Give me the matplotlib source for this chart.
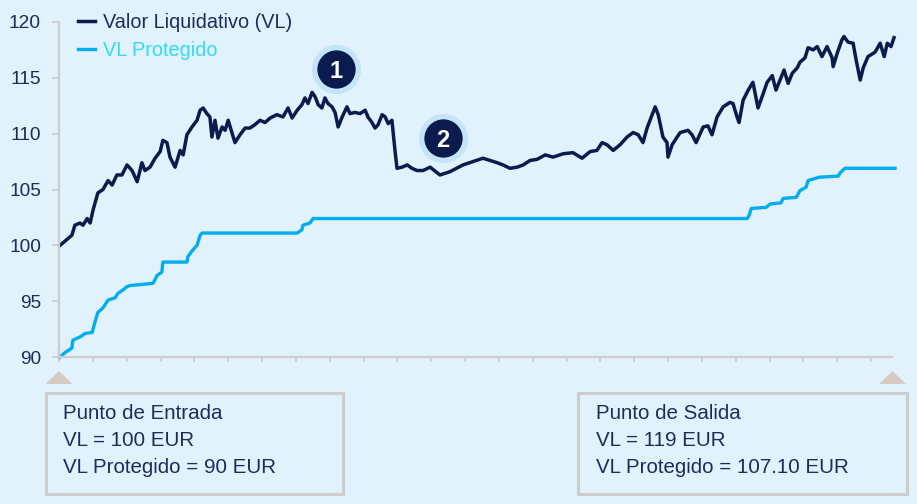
import matplotlib.pyplot as plt
from matplotlib.patches import Rectangle, Polygon

plt.rcParams['font.family'] = ['Liberation Sans', 'DejaVu Sans']

# eje x en meses (una marca por mes)
t_vl = [0.03, 0.38, 0.47, 0.62, 0.71, 0.83, 0.92, 1.01, 1.15, 1.30, 1.45, 1.57, 1.71, 1.86,
        2.01, 2.16, 2.31, 2.45, 2.54, 2.69, 2.84, 2.99, 3.07, 3.19, 3.28, 3.43, 3.58, 3.67,
        3.78, 3.93, 4.08, 4.17, 4.26, 4.37, 4.46, 4.52, 4.61, 4.70, 4.82, 4.91, 5.00, 5.11,
        5.20, 5.35, 5.50, 5.64, 5.79, 5.94, 6.09, 6.24, 6.44, 6.62, 6.77, 6.89, 7.04, 7.18,
        7.27, 7.36, 7.48, 7.57, 7.66, 7.77, 7.86, 7.95, 8.07, 8.16, 8.25, 8.37, 8.51, 8.60,
        8.75, 8.90, 9.05, 9.13, 9.25, 9.34, 9.43, 9.55, 9.64, 9.73, 9.84, 9.87, 9.93, 9.99,
        10.14, 10.29, 10.43, 10.58, 10.76, 10.97, 11.26, 11.56, 11.94, 12.24, 12.53, 12.74,
        12.95, 13.12, 13.33, 13.54, 13.72, 13.92, 14.13, 14.37, 14.60, 14.90, 15.19, 15.46,
        15.70, 15.90, 16.05, 16.20, 16.38, 16.58, 16.79, 16.97, 17.12, 17.26, 17.38, 17.53,
        17.62, 17.71, 17.85, 17.97, 18.00, 18.12, 18.27, 18.36, 18.59, 18.71, 18.83, 19.04,
        19.18, 19.30, 19.45, 19.63, 19.83, 19.92, 20.04, 20.10, 20.22, 20.37, 20.51, 20.57,
        20.66, 20.78, 20.93, 21.08, 21.19, 21.31, 21.43, 21.55, 21.67, 21.82, 21.90, 22.05,
        22.14, 22.29, 22.41, 22.55, 22.70, 22.85, 22.88, 23.00, 23.14, 23.20, 23.32, 23.47,
        23.56, 23.68, 23.77, 23.91, 24.12, 24.27, 24.39, 24.48, 24.59, 24.68]
vl = [100.0, 100.9, 101.8, 102.0, 101.8, 102.4, 102.0, 103.2, 104.7, 105.0, 105.8, 105.4,
      106.3, 106.3, 107.2, 106.7, 105.7, 107.4, 106.7, 107.0, 107.8, 108.4, 109.4, 109.2,
      107.9, 107.0, 108.5, 108.1, 109.9, 110.6, 111.2, 112.1, 112.3, 111.8, 111.5, 109.7,
      111.2, 109.6, 110.6, 110.3, 111.2, 110.1, 109.2, 109.9, 110.5, 110.5, 110.8, 111.2,
      111.0, 111.4, 111.7, 111.5, 112.3, 111.4, 112.1, 112.6, 113.2, 112.7, 113.7, 113.3,
      112.6, 112.3, 113.2, 112.7, 112.4, 111.9, 110.6, 111.5, 112.4, 111.8, 111.9, 111.8,
      112.1, 111.5, 111.0, 110.5, 110.8, 111.7, 111.5, 110.9, 111.2, 110.3, 108.5, 106.9,
      107.0, 107.2, 106.9, 106.7, 106.7, 107.0, 106.3, 106.6, 107.2, 107.5, 107.8, 107.6,
      107.4, 107.2, 106.9, 107.0, 107.2, 107.6, 107.7, 108.1, 107.9, 108.2, 108.3, 107.8,
      108.4, 108.5, 109.2, 109.0, 108.5, 109.0, 109.7, 110.1, 109.9, 109.2, 110.5, 111.7,
      112.4, 111.7, 109.7, 109.2, 107.9, 109.0, 109.7, 110.1, 110.3, 109.9, 109.2, 110.6,
      110.7, 109.9, 111.5, 112.4, 112.8, 112.7, 111.5, 111.0, 113.0, 113.9, 114.6, 113.7,
      112.3, 113.3, 114.6, 115.2, 113.9, 114.8, 115.7, 114.5, 115.4, 115.9, 116.4, 116.8,
      117.7, 117.5, 117.8, 116.9, 117.8, 116.8, 116.0, 117.2, 118.4, 118.7, 118.2, 118.1,
      116.6, 114.8, 115.9, 116.9, 117.3, 118.1, 116.9, 118.1, 117.8, 118.6]

t_prot = [0.03, 0.18, 0.38, 0.41, 0.62, 0.77, 0.98, 1.06, 1.15, 1.30, 1.45, 1.66, 1.74,
          1.89, 2.01, 2.10, 2.78, 2.90, 3.04, 3.07, 3.78, 3.81, 3.96, 4.08, 4.17, 4.23,
          7.04, 7.18, 7.21, 7.42, 7.51, 20.34, 20.40, 20.46, 20.90, 21.02, 21.34, 21.40,
          21.79, 21.90, 22.08, 22.14, 22.47, 23.03, 23.09, 23.23, 24.71]
vl_prot = [90.0, 90.4, 90.8, 91.5, 91.8, 92.1, 92.2, 93.1, 94.0, 94.4, 95.1, 95.3, 95.7,
           96.0, 96.3, 96.4, 96.6, 97.3, 97.6, 98.5, 98.5, 99.0, 99.6, 100.0, 100.9, 101.1,
           101.1, 101.4, 101.8, 102.0, 102.4, 102.4, 102.7, 103.3, 103.4, 103.7, 103.8, 104.2,
           104.3, 104.9, 105.2, 105.8, 106.1, 106.2, 106.5, 106.9, 106.9]

y_ticks = [90, 95, 100, 105, 110, 115, 120]
n_meses = 24
x_fin = 24.62

hitos = ["1", "2"]
hitos_t = [8.19, 11.35]
hitos_v = [115.8, 109.6]

cajas = [
    "Punto de Entrada\nVL = 100 EUR\nVL Protegido = 90 EUR",
    "Punto de Salida\nVL = 119 EUR\nVL Protegido = 107.10 EUR",
]

BG = '#e1f2fc'
NAVY = '#0b1b4d'
TXT = '#1c2c5c'
CYAN = '#00aeef'
GRIS = '#cdcdcd'
BEIGE = '#d5cac2'

W, H = 917, 504
fig = plt.figure(figsize=(W / 100, H / 100), dpi=100, facecolor=BG)
ax = fig.add_axes([59 / W, 1 - 357 / H, 833 / W, 335 / H])
ax.set_facecolor(BG)

ax.plot(t_prot, vl_prot, color=CYAN, lw=2.4, clip_on=False, label='VL Protegido',
        solid_joinstyle='round')
ax.plot(t_vl, vl, color=NAVY, lw=2.5, clip_on=False, label='Valor Liquidativo (VL)',
        solid_joinstyle='round')

ax.set_xlim(0, x_fin)
ax.set_ylim(90, 120)
ax.set_yticks(y_ticks)
ax.set_xticks(range(n_meses + 1))
ax.set_xticklabels([])
for s in ['top', 'right']:
    ax.spines[s].set_visible(False)
for s in ['left', 'bottom']:
    ax.spines[s].set_color(GRIS)
    ax.spines[s].set_linewidth(1.6)
ax.tick_params(axis='y', colors=GRIS, length=5, width=1.3, pad=8, labelcolor=TXT,
               labelsize=13.8)
ax.tick_params(axis='x', colors=GRIS, length=3.5, width=1.3)

# círculos numerados
ax.scatter(hitos_t, hitos_v, s=1250, color='#c4e5f7', zorder=4, clip_on=False, lw=0)
ax.scatter(hitos_t, hitos_v, s=760, color=NAVY, zorder=5, clip_on=False, lw=0)
for lab, x, y in zip(hitos, hitos_t, hitos_v):
    ax.text(x, y, lab, color='white', fontsize=17, fontweight='bold',
            ha='center', va='center_baseline', zorder=6)

h, l = ax.get_legend_handles_labels()
leg = fig.legend(h[::-1], l[::-1], loc='upper left', bbox_to_anchor=(78 / W, 1 - 13 / H),
                 frameon=False, fontsize=14.3, handlelength=0.85, handletextpad=0.42,
                 labelspacing=0.45, borderpad=0, borderaxespad=0)
leg.get_texts()[0].set_color(TXT)
leg.get_texts()[1].set_color('#30dcf6')

# triángulos de entrada / salida
for cx in [59, 892.5]:
    fig.patches.append(Polygon([((cx - 13.5) / W, 1 - 384 / H), ((cx + 13.5) / W, 1 - 384 / H),
                                (cx / W, 1 - 371 / H)], closed=True, transform=fig.transFigure,
                               facecolor=BEIGE, edgecolor='none'))

# cajas de texto
for (x0, x1, tx), txt in zip([(46, 343, 63), (578, 907, 596)], cajas):
    fig.patches.append(Rectangle((x0 / W, 1 - 494 / H), (x1 - x0) / W, 101 / H,
                                 transform=fig.transFigure, facecolor='none',
                                 edgecolor=GRIS, lw=2.2))
    fig.text(tx / W, 1 - 404 / H, txt, color=TXT, fontsize=14.8, va='top', ha='left',
             linespacing=1.52)

fig.savefig('out.png', dpi=100, facecolor=BG)
